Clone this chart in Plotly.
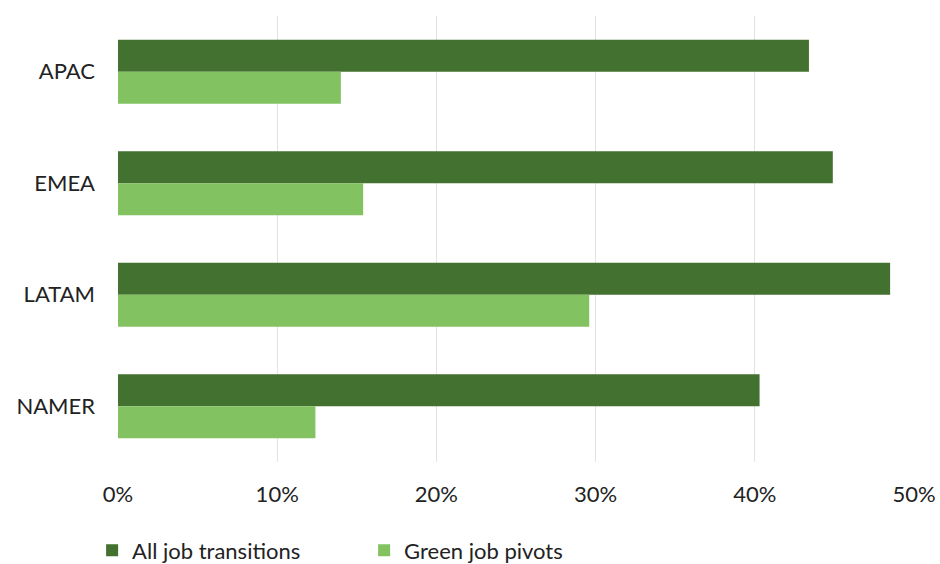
import plotly.graph_objects as go

# Regions (top to bottom) and share of transitions per region
regions = ["APAC", "EMEA", "LATAM", "NAMER"]
all_transitions = [0.434, 0.449, 0.485, 0.403]
green_pivots = [0.140, 0.154, 0.296, 0.124]

x_ticks = [0, 0.1, 0.2, 0.3, 0.4, 0.5]
x_tick_labels = ["0%", "10%", "20%", "30%", "40%", "50%"]

DARK = "#43712F"
LIGHT = "#83C260"
FONT = "Lato, 'Open Sans', sans-serif"
TEXT = "#222222"

fig = go.Figure()
fig.add_trace(go.Bar(
    y=regions, x=all_transitions, orientation="h",
    name="All job transitions", marker=dict(color=DARK, line=dict(width=0)),
))
fig.add_trace(go.Bar(
    y=regions, x=green_pivots, orientation="h",
    name="Green job pivots", marker=dict(color=LIGHT, line=dict(width=0)),
))

fig.update_layout(
    width=940, height=564,
    margin=dict(l=118, r=26, t=16, b=102, autoexpand=False),
    paper_bgcolor="white", plot_bgcolor="white",
    barmode="group", bargap=0.425, bargroupgap=0,
    font=dict(family=FONT, size=22, color=TEXT),
    showlegend=True,
    legend=dict(
        orientation="h",
        xref="container", x=0.098, xanchor="left",
        yref="container", y=0.024, yanchor="middle",
        font=dict(size=22, color=TEXT),
        entrywidth=227, entrywidthmode="pixels",
        itemwidth=30, traceorder="normal",
        bgcolor="rgba(0,0,0,0)",
    ),
)
fig.update_xaxes(
    range=[0, 0.5], tickvals=x_ticks, ticktext=x_tick_labels,
    showgrid=True, gridcolor="#E2E2E2", gridwidth=1,
    zeroline=False, showline=False, ticks="", ticklen=0,
    ticklabelstandoff=17, tickfont=dict(size=22), automargin=False,
)
fig.update_yaxes(
    autorange="reversed", showgrid=False, zeroline=False, showline=False,
    ticks="", ticklabelstandoff=22, tickfont=dict(size=22), automargin=False,
)

fig.write_html("out.html")
